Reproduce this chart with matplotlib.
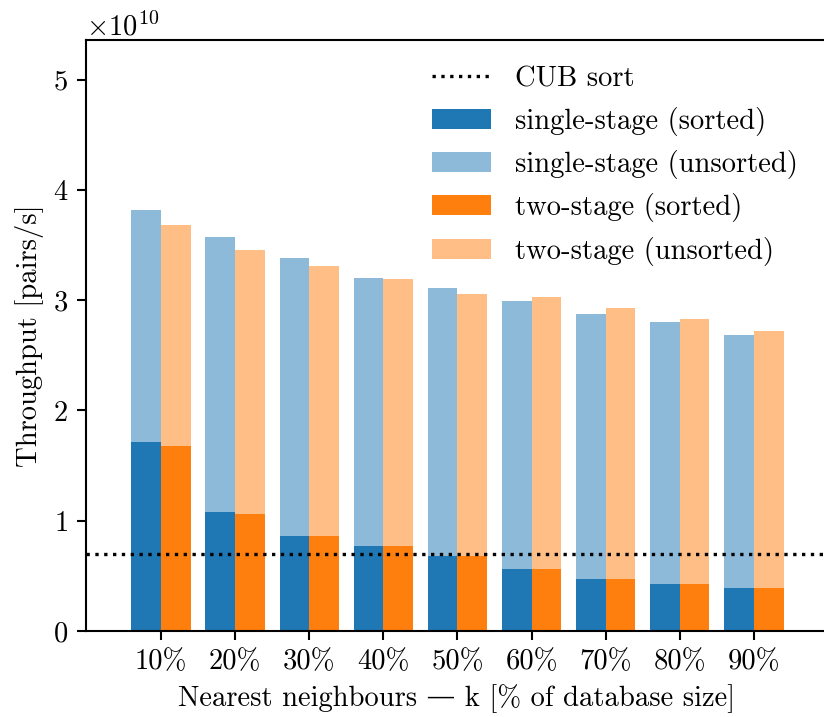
import numpy as np
import matplotlib
matplotlib.use("Agg")
import matplotlib.pyplot as plt
from matplotlib.lines import Line2D
from matplotlib.patches import Patch

plt.rcParams['font.family'] = ['cmr10', 'DejaVu Serif']
plt.rcParams['mathtext.fontset'] = 'cm'
plt.rcParams['axes.formatter.use_mathtext'] = True
plt.rcParams['font.size'] = 20.6

# throughput in pairs/s, per k (% of database size)
k_labels = ["10%", "20%", "30%", "40%", "50%", "60%", "70%", "80%", "90%"]
single_sorted = np.array([1.715, 1.080, 0.862, 0.771, 0.681, 0.563, 0.472, 0.426, 0.390]) * 1e10
single_unsorted = np.array([3.82, 3.575, 3.385, 3.203, 3.112, 2.995, 2.877, 2.804, 2.686]) * 1e10
two_sorted = np.array([1.679, 1.062, 0.862, 0.771, 0.681, 0.563, 0.472, 0.426, 0.390]) * 1e10
two_unsorted = np.array([3.684, 3.457, 3.312, 3.194, 3.058, 3.031, 2.931, 2.831, 2.722]) * 1e10
cub_sort = 0.696e10

blue = "tab:blue"
orange = "tab:orange"
w = 0.4

fig = plt.figure(figsize=(8.24, 7.17), dpi=100)
ax = fig.add_axes([86 / 824, 86 / 717, 742 / 824, (631 - 40) / 717])

x = np.arange(len(k_labels))
ax.bar(x - w / 2, single_unsorted, w, color=blue, alpha=0.5)
ax.bar(x + w / 2, two_unsorted, w, color=orange, alpha=0.5)
ax.bar(x - w / 2, single_sorted, w, color=blue)
ax.bar(x + w / 2, two_sorted, w, color=orange)
ax.axhline(cub_sort, color="black", linestyle=":", linewidth=2.4)

ax.set_xlim(-1.012, 9.0)
ax.set_ylim(0, 5.36e10)
ax.set_xticks(x)
ax.set_xticklabels(k_labels)
ax.set_yticks(np.arange(0, 6) * 1e10)
ax.set_xlabel("Nearest neighbours — k [% of database size]", labelpad=6)
ax.set_ylabel("Throughput [pairs/s]", labelpad=6)
ax.spines['right'].set_visible(False)
for s in ax.spines.values():
    s.set_linewidth(1.5)
ax.tick_params(width=1.5, length=6.5, pad=6.5)

handles = [
    Line2D([], [], color="black", linestyle=":", linewidth=2.4),
    Patch(facecolor=blue, edgecolor="none"),
    Patch(facecolor=blue, edgecolor="none", alpha=0.5),
    Patch(facecolor=orange, edgecolor="none"),
    Patch(facecolor=orange, edgecolor="none", alpha=0.5),
]
labels = ["CUB sort", "single-stage (sorted)", "single-stage (unsorted)",
          "two-stage (sorted)", "two-stage (unsorted)"]
ax.legend(handles, labels, loc="upper left", bbox_to_anchor=(432 / 824, 1 - 66 / 717),
          bbox_transform=fig.transFigure, frameon=False, borderpad=0, borderaxespad=0,
          handlelength=2.06, handleheight=0.7, labelspacing=0.5, handletextpad=0.84)

fig.savefig("out.png", dpi=100)
